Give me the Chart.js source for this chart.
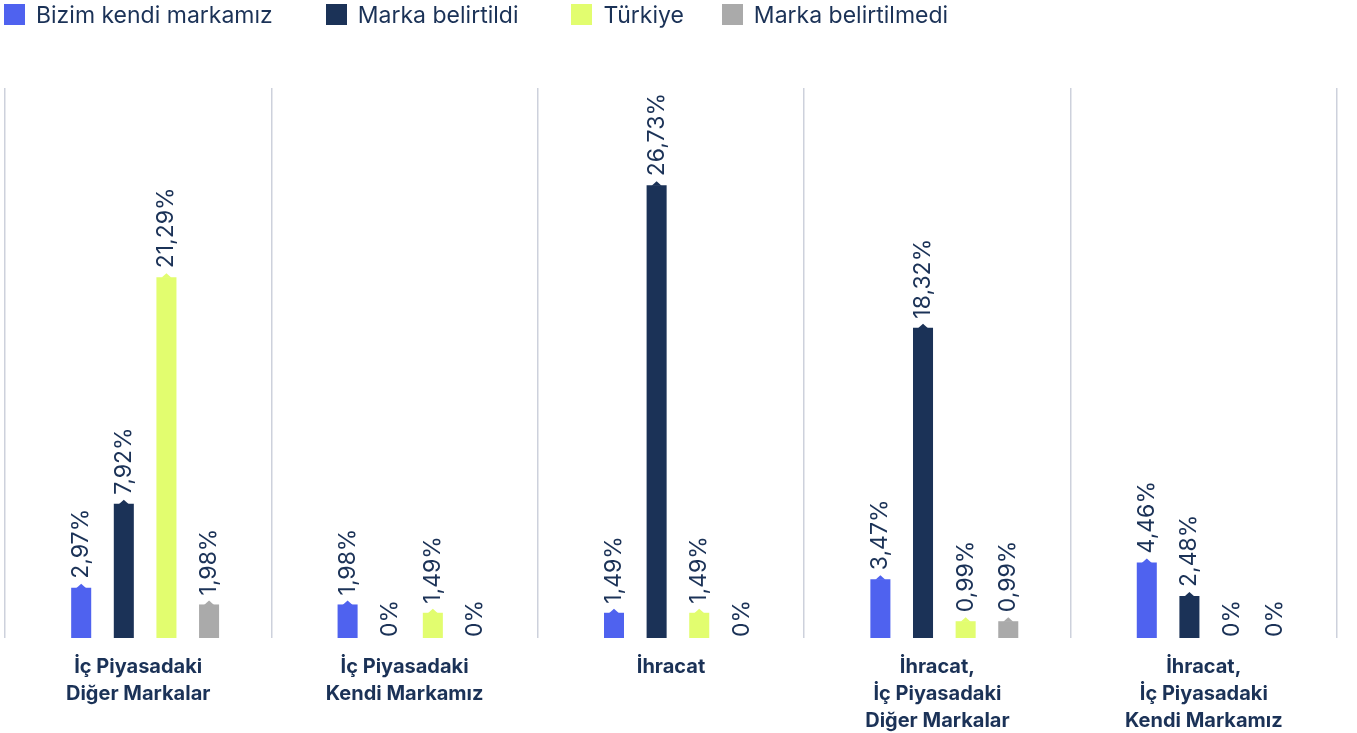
<!DOCTYPE html>
<html>
<head>
<meta charset="utf-8">
<script src="https://cdn.jsdelivr.net/npm/chart.js@4/dist/chart.umd.min.js"></script>
<style>
    body { margin: 0; background: #fff; }
    #wrap { position: relative; width: 1357px; height: 733px; }
    #legend {
        position: absolute; top: 4px; left: 4px;
        display: flex;
        font-family: Inter, "Noto Sans", sans-serif; font-size: 23px; color: #1b3257;
    }
    #legend .item { display: flex; align-items: center; height: 21px; margin-right: 53px; }
    #legend .item:nth-child(3) { margin-right: 38px; }
    #legend .box { width: 21px; height: 21px; margin-right: 11px; }
</style>
</head>
<body>
<div id="wrap">
    <canvas id="myChart" width="1357" height="733"></canvas>
    <div id="legend"></div>
</div>
<script>
const categories = [
    ["İç Piyasadaki", "Diğer Markalar"],
    ["İç Piyasadaki", "Kendi Markamız"],
    ["İhracat"],
    ["İhracat,", "İç Piyasadaki", "Diğer Markalar"],
    ["İhracat,", "İç Piyasadaki", "Kendi Markamız"]
];
const seriesNames = ["Bizim kendi markamız", "Marka belirtildi", "Türkiye", "Marka belirtilmedi"];
const seriesColors = ["#4f62ef", "#1b3257", "#e2fd6f", "#aaaaaa"];

const ownBrand = [2.97, 1.98, 1.49, 3.47, 4.46];
const brandGiven = [7.92, 0, 26.73, 18.32, 2.48];
const turkey = [21.29, 1.49, 1.49, 0.99, 0];
const brandNotGiven = [1.98, 0, 0, 0.99, 0];

const seriesValues = [ownBrand, brandGiven, turkey, brandNotGiven];
const navy = "#1b3257";

// html legend
const legendEl = document.getElementById("legend");
seriesNames.forEach((name, i) => {
    const item = document.createElement("div");
    item.className = "item";
    item.innerHTML = '<span class="box" style="background:' + seriesColors[i] + '"></span><span>' + name + '</span>';
    legendEl.appendChild(item);
});

function fmt(v) {
    return v === 0 ? "0%" : v.toFixed(2).replace(".", ",") + "%";
}

// little caps on bar tops + rotated value labels
const barLabels = {
    id: "barLabels",
    afterDatasetsDraw(chart) {
        const ctx = chart.ctx;
        ctx.save();
        chart.data.datasets.forEach((ds, di) => {
            const meta = chart.getDatasetMeta(di);
            meta.data.forEach((bar, i) => {
                const v = ds.data[i].y;
                if (v > 0) {
                    ctx.fillStyle = ds.backgroundColor;
                    ctx.beginPath();
                    ctx.moveTo(bar.x - 5, bar.y + 0.5);
                    ctx.lineTo(bar.x, bar.y - 4);
                    ctx.lineTo(bar.x + 5, bar.y + 0.5);
                    ctx.closePath();
                    ctx.fill();
                }
                ctx.save();
                ctx.translate(bar.x, bar.y - (v > 0 ? 9 : 1));
                ctx.rotate(-Math.PI / 2);
                ctx.fillStyle = navy;
                ctx.font = "23px Inter, 'Noto Sans', sans-serif";
                ctx.textAlign = "left";
                ctx.textBaseline = "middle";
                ctx.fillText(fmt(v), 0, 0);
                ctx.restore();
            });
        });
        ctx.restore();
    }
};

// bar groups sit a little right of the category centre
const shift = 0.026;

const ctx = document.getElementById("myChart").getContext("2d");
const myChart = new Chart(ctx, {
    type: "bar",
    data: {
        labels: categories,
        datasets: seriesNames.map((name, i) => ({
            label: name,
            data: seriesValues[i].map((v, j) => ({ x: j, y: v })),
            backgroundColor: seriesColors[i],
            xAxisID: "xb",
            yAxisID: "y",
            categoryPercentage: 0.64,
            barPercentage: 0.47
        }))
    },
    options: {
        responsive: false,
        animation: false,
        layout: { padding: { top: 88, left: 5, right: 20, bottom: -16 } },
        scales: {
            x: {
                type: "category",
                labels: categories,
                offset: true,
                border: { display: false },
                grid: { offset: true, color: "#cdd1dc", lineWidth: 1.5, drawTicks: false },
                ticks: {
                    padding: 15,
                    color: navy,
                    maxRotation: 0,
                    autoSkip: false,
                    font: { family: "Inter, 'Noto Sans', sans-serif", size: 20, weight: "bold", lineHeight: 1.35 }
                }
            },
            xb: {
                type: "linear",
                axis: "x",
                display: false,
                offset: false,
                min: -0.5 - shift,
                max: categories.length - 0.5 - shift,
                afterBuildTicks: s => { s.ticks = categories.map((c, i) => ({ value: i })); }
            },
            y: {
                display: false,
                min: 0,
                max: 32.47
            }
        },
        plugins: {
            legend: { display: false },
            tooltip: { enabled: false }
        }
    },
    plugins: [barLabels]
});
</script>
</body>
</html>
